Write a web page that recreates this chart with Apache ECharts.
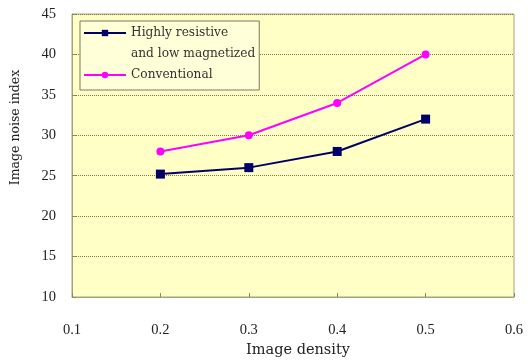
<!DOCTYPE html>
<html><head><meta charset="utf-8">
<script src="https://cdn.jsdelivr.net/npm/echarts@6/dist/echarts.min.js"></script>
<style>html,body{margin:0;padding:0;background:#fff}#c{width:528px;height:361px}</style>
</head><body><div id="c"></div>
<script>
const densities = [0.2, 0.3, 0.4, 0.5];
const highlyResistive = [25.2, 26, 28, 32];
const conventional = [28, 30, 34, 40];
const seriesNames = ['Highly resistive', 'and low magnetized', 'Conventional'];

const chart = echarts.init(document.getElementById('c'));
const pairs = (ys) => densities.map((x, i) => [x, ys[i]]);
chart.setOption({
  animation: false,
  backgroundColor: '#ffffff',
  grid: { left: 72, right: 14, top: 14, bottom: 64, outerBoundsMode: 'none', show: true, backgroundColor: '#FFFFC6', borderColor: '#a3a37f', borderWidth: 1 },
  xAxis: {
    type: 'value', min: 0.1, max: 0.6, interval: 0.1,
    name: 'Image density', nameLocation: 'middle', nameGap: 42,
    nameTextStyle: { fontFamily: 'DejaVu Serif', fontSize: 14.5, color: '#222', padding: [0, 0, 0, 10] },
    axisLine: { lineStyle: { color: '#a3a37f' } },
    axisTick: { inside: true, length: 4, lineStyle: { color: '#888866' } },
    axisLabel: { margin: 26, fontFamily: 'Liberation Serif', fontSize: 14.5, color: '#222', formatter: v => v.toFixed(1) },
    splitLine: { show: false }
  },
  yAxis: {
    type: 'value', min: 10, max: 45, interval: 5,
    name: 'Image noise index', nameLocation: 'middle', nameGap: 50,
    nameTextStyle: { fontFamily: 'DejaVu Serif', fontSize: 12.5, color: '#222', padding: [0, 0, 0, 56] },
    axisLine: { show: true, lineStyle: { color: '#a3a37f' } },
    axisTick: { show: true, inside: true, length: 4, lineStyle: { color: '#888866' } },
    axisLabel: { margin: 16, fontFamily: 'Liberation Serif', fontSize: 14.5, color: '#222' },
    splitLine: { show: true, lineStyle: { type: 'dotted', color: '#7a7a45', width: 1 } }
  },
  legend: {
    orient: 'vertical', left: 80, top: 21, padding: [6, 4, 9, 3],
    itemWidth: 42, itemHeight: 8, itemGap: 9,
    backgroundColor: '#FFFFD8', borderColor: '#7a7a60', borderWidth: 1,
    textStyle: { fontFamily: 'DejaVu Serif', fontSize: 12.2, color: '#333' },
    data: [
      { name: seriesNames[0] },
      { name: seriesNames[1], icon: 'none' },
      { name: seriesNames[2] }
    ],
    selectedMode: false
  },
  series: [
    { name: seriesNames[0], type: 'line', data: pairs(highlyResistive), symbol: 'rect', symbolSize: 9,
      lineStyle: { color: '#000066', width: 2 }, itemStyle: { color: '#000066' } },
    { name: seriesNames[1], type: 'line', data: [], symbol: 'none', lineStyle: { width: 0 } },
    { name: seriesNames[2], type: 'line', data: pairs(conventional), symbol: 'circle', symbolSize: 8,
      lineStyle: { color: '#FF00FF', width: 2 }, itemStyle: { color: '#FF00FF' } }
  ]
});
</script></body></html>
